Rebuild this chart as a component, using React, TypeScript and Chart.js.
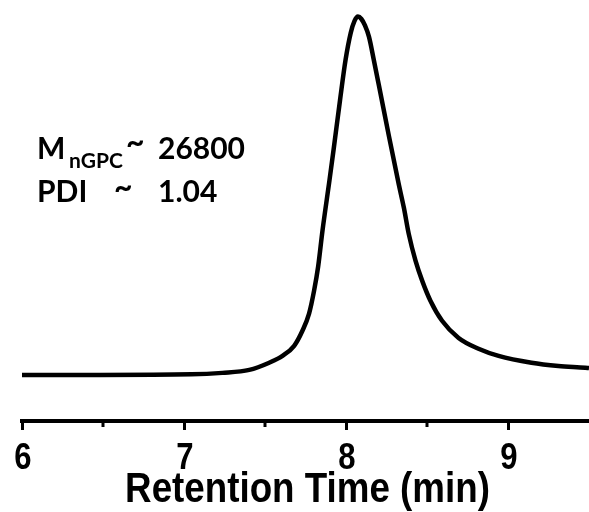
import React, { useEffect, useRef } from "react";
import { Chart, registerables } from "chart.js";

Chart.register(...registerables);

// Data
const X_MIN = 6;
const X_MAX = 9.5;
const MAJOR_TICKS = [6, 7, 8, 9];
const MINOR_TICKS = [6.5, 7.5, 8.5];
const AXIS_TITLE = "Retention Time (min)";

const RETENTION_TIME = [
  6.0, 6.48, 7.046, 7.237, 7.403, 7.526, 7.608, 7.68, 7.731, 7.772, 7.803,
  7.828, 7.855, 7.898, 7.923, 7.963, 7.997, 8.029, 8.052, 8.074, 8.095, 8.117,
  8.142, 8.172, 8.203, 8.265, 8.326, 8.357, 8.388, 8.429, 8.47, 8.521, 8.593,
  8.695, 8.818, 8.942, 9.145, 9.311, 9.477, 9.5,
];
const SIGNAL = [
  0.0, 0.0, 0.0014, 0.0056, 0.014, 0.034, 0.053, 0.081, 0.123, 0.171, 0.235,
  0.302, 0.403, 0.543, 0.627, 0.766, 0.878, 0.954, 0.987, 1.0, 0.993, 0.975,
  0.943, 0.878, 0.808, 0.666, 0.531, 0.467, 0.392, 0.319, 0.263, 0.207, 0.151,
  0.103, 0.073, 0.053, 0.034, 0.025, 0.02, 0.019,
];

const Y_MIN = -0.1287;
const Y_MAX = 1.046;

const AXIS_FONT = "'Liberation Sans', Arial, sans-serif";
const NOTE_FONT = "Lato, 'Open Sans', sans-serif";

// Draws minor ticks plus the (condensed) tick labels and axis title
const axisDecorPlugin = {
  id: "axisDecor",
  afterDraw(chart: any) {
    const xs = chart.scales.x;
    const ctx = chart.ctx;
    ctx.save();
    ctx.strokeStyle = "#000";
    ctx.lineWidth = 3;
    MINOR_TICKS.forEach((v) => {
      const px = xs.getPixelForValue(v);
      ctx.beginPath();
      ctx.moveTo(px, xs.top);
      ctx.lineTo(px, xs.top + 6);
      ctx.stroke();
    });

    ctx.fillStyle = "#000";
    ctx.textAlign = "center";
    ctx.textBaseline = "alphabetic";
    ctx.font = `bold 37px ${AXIS_FONT}`;
    MAJOR_TICKS.forEach((v) => {
      const px = xs.getPixelForValue(v) + 1;
      ctx.save();
      ctx.translate(px, xs.top + 48);
      ctx.scale(0.84, 1);
      ctx.fillText(String(v), 0, 0);
      ctx.restore();
    });

    ctx.font = `bold 42px ${AXIS_FONT}`;
    const cx = (xs.left + xs.right) / 2 + 2;
    ctx.save();
    ctx.translate(cx, xs.top + 81);
    ctx.scale(0.875, 1);
    ctx.fillText(AXIS_TITLE, 0, 0);
    ctx.restore();
    ctx.restore();
  },
};

export default function App() {
  const ref = useRef<HTMLCanvasElement | null>(null);

  useEffect(() => {
    if (!ref.current) return;
    const chart = new Chart(ref.current, {
      type: "line",
      data: {
        datasets: [
          {
            data: RETENTION_TIME.map((x, i) => ({ x, y: SIGNAL[i] })),
            borderColor: "#000",
            borderWidth: 4.5,
            pointRadius: 0,
            fill: false,
            cubicInterpolationMode: "monotone",
          },
        ],
      },
      options: {
        animation: false,
        responsive: false,
        layout: { padding: { left: 22, right: 0, top: 0, bottom: 0 } },
        plugins: {
          legend: { display: false },
          tooltip: { enabled: false },
        },
        scales: {
          x: {
            type: "linear",
            min: X_MIN,
            max: X_MAX,
            afterBuildTicks: (scale: any) => {
              scale.ticks = MAJOR_TICKS.map((value) => ({ value }));
            },
            afterFit: (scale: any) => {
              scale.height = 91;
            },
            grid: {
              display: true,
              drawOnChartArea: false,
              drawTicks: true,
              tickLength: 9,
              tickWidth: 3,
              tickColor: "#000",
            },
            border: { display: true, color: "#000", width: 4 },
            ticks: { display: false },
            title: { display: false, text: AXIS_TITLE },
          },
          y: {
            type: "linear",
            display: false,
            min: Y_MIN,
            max: Y_MAX,
          },
        },
      },
      plugins: [axisDecorPlugin],
    });
    return () => chart.destroy();
  }, []);

  const note: React.CSSProperties = {
    position: "absolute",
    fontFamily: NOTE_FONT,
    fontWeight: 700,
    color: "#000",
    lineHeight: 1,
    whiteSpace: "pre",
    margin: 0,
  };

  return (
    <div
      style={{
        position: "absolute",
        left: 0,
        top: 0,
        width: 589,
        height: 512,
        background: "#fff",
        overflow: "hidden",
      }}
    >
      <canvas ref={ref} width={589} height={512} style={{ display: "block" }} />
      <div style={{ ...note, left: 37, top: 132, fontSize: 30 }}>M</div>
      <div style={{ ...note, left: 69, top: 149, fontSize: 21 }}>nGPC</div>
      <div style={{ ...note, left: 126, top: 125, fontSize: 32 }}>~</div>
      <div style={{ ...note, left: 158, top: 132, fontSize: 30 }}>26800</div>
      <div style={{ ...note, left: 37, top: 175, fontSize: 30 }}>PDI</div>
      <div style={{ ...note, left: 114, top: 170, fontSize: 32 }}>~</div>
      <div style={{ ...note, left: 158, top: 175, fontSize: 30 }}>1.04</div>
    </div>
  );
}
